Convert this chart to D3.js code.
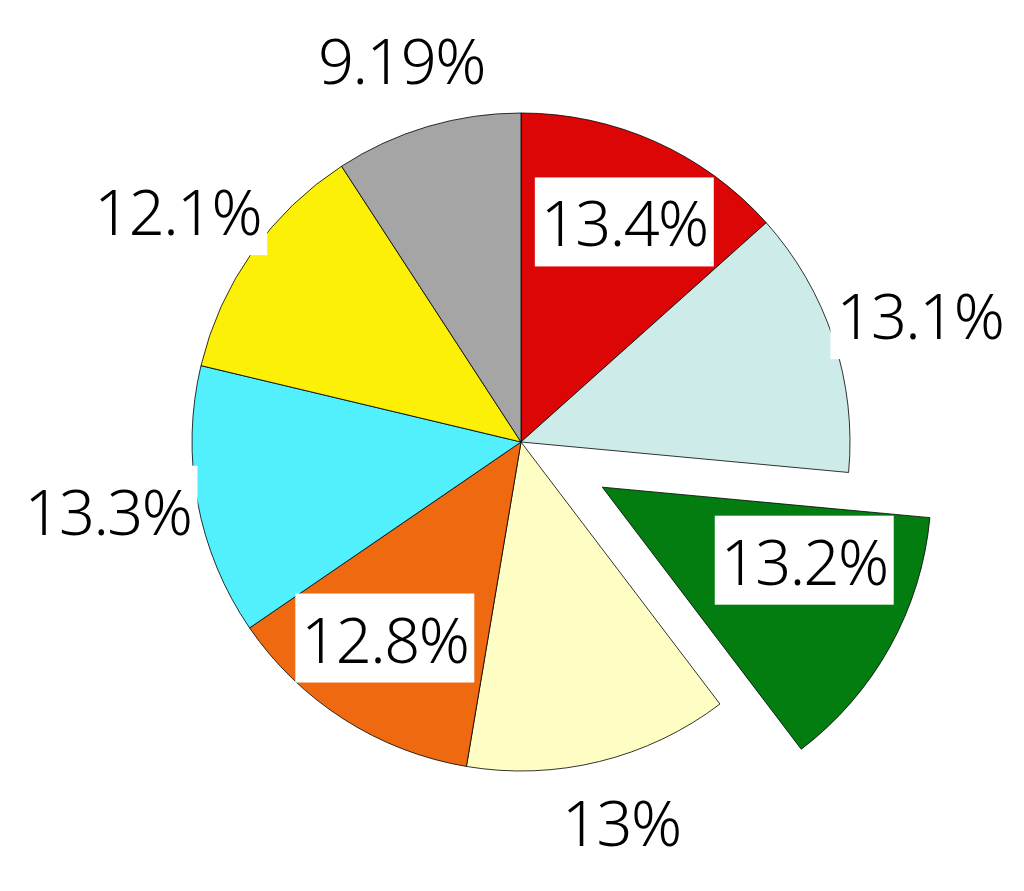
<!DOCTYPE html>
<html>
<head>
<meta charset="utf-8">
<script src="https://d3js.org/d3.v7.min.js"></script>
<style>
  body { margin: 0; background: #ffffff; }
  svg { display: block; }
</style>
</head>
<body>
<div id="chart"></div>
<script>
// Data ////////////////////////////////////////
var labels = ["13.4%", "13.1%", "13.2%", "13%", "12.8%", "13.3%", "12.1%", "9.19%"];
var values = [13.4, 13.1, 13.2, 13.0, 12.8, 13.3, 12.1, 9.19];
var colors = ["#dd0606", "#cdece9", "#037d10", "#fdfdc4", "#ef6911", "#52effc", "#fbf006", "#a5a5a5"];
var exploded = [false, false, true, false, false, false, false, false];
var inside = [true, false, true, false, true, false, false, false];

// Parameters //////////////////////////////////
var width = 1024, height = 891;
var cx = 521, cy = 442;
var radius = 329;
var explodeDist = 93;

// label ellipses (x radius, y radius)
var outsideR = [420, 395];
var insideR = [253, 237];
// the exploded label sits a bit higher in its slice
var explodedLabelR = [231, 158];

var svg = d3.select("#chart").append("svg")
    .attr("width", width)
    .attr("height", height);

var g = svg.append("g")
    .attr("transform", "translate(" + cx + "," + cy + ")");

var pie = d3.pie()
    .sort(null)
    .value(function(d) { return d; });

var arcs = pie(values);

var arc = d3.arc()
    .innerRadius(0)
    .outerRadius(radius);

function offset(d, i) {
  if (!exploded[i]) return [0, 0];
  var a = (d.startAngle + d.endAngle) / 2;
  return [Math.sin(a) * explodeDist, -Math.cos(a) * explodeDist];
}

// Slices //////////////////////////////////////
g.selectAll("path.slice")
    .data(arcs)
    .enter().append("path")
    .attr("class", "slice")
    .attr("transform", function(d, i) { var o = offset(d, i); return "translate(" + o[0] + "," + o[1] + ")"; })
    .attr("d", arc)
    .attr("fill", function(d, i) { return colors[i]; })
    .attr("stroke", "#000000")
    .attr("stroke-width", 0.8)
    .attr("stroke-linejoin", "round");

// Labels //////////////////////////////////////
var label = g.selectAll("g.label")
    .data(arcs)
    .enter().append("g")
    .attr("class", "label")
    .attr("transform", function(d, i) {
      var o = offset(d, i);
      var a = (d.startAngle + d.endAngle) / 2;
      var r = exploded[i] ? explodedLabelR : (inside[i] ? insideR : outsideR);
      return "translate(" + (o[0] + Math.sin(a) * r[0]) + "," + (o[1] - Math.cos(a) * r[1]) + ")";
    });

label.append("text")
    .attr("text-anchor", "middle")
    .attr("dy", "0.33em")
    .style("font-family", "'Noto Sans', 'Open Sans', sans-serif")
    .style("font-weight", 300)
    .style("font-size", "63px")
    .style("letter-spacing", "-1.5px")
    .style("fill", "#000000")
    .text(function(d, i) { return labels[i]; });

label.each(function() {
  var t = d3.select(this).select("text");
  var b = t.node().getBBox();
  d3.select(this).insert("rect", "text")
    .attr("x", b.x - 6)
    .attr("y", b.y - 2)
    .attr("width", b.width + 12)
    .attr("height", b.height + 4)
    .attr("fill", "#ffffff");
});
</script>
</body>
</html>
